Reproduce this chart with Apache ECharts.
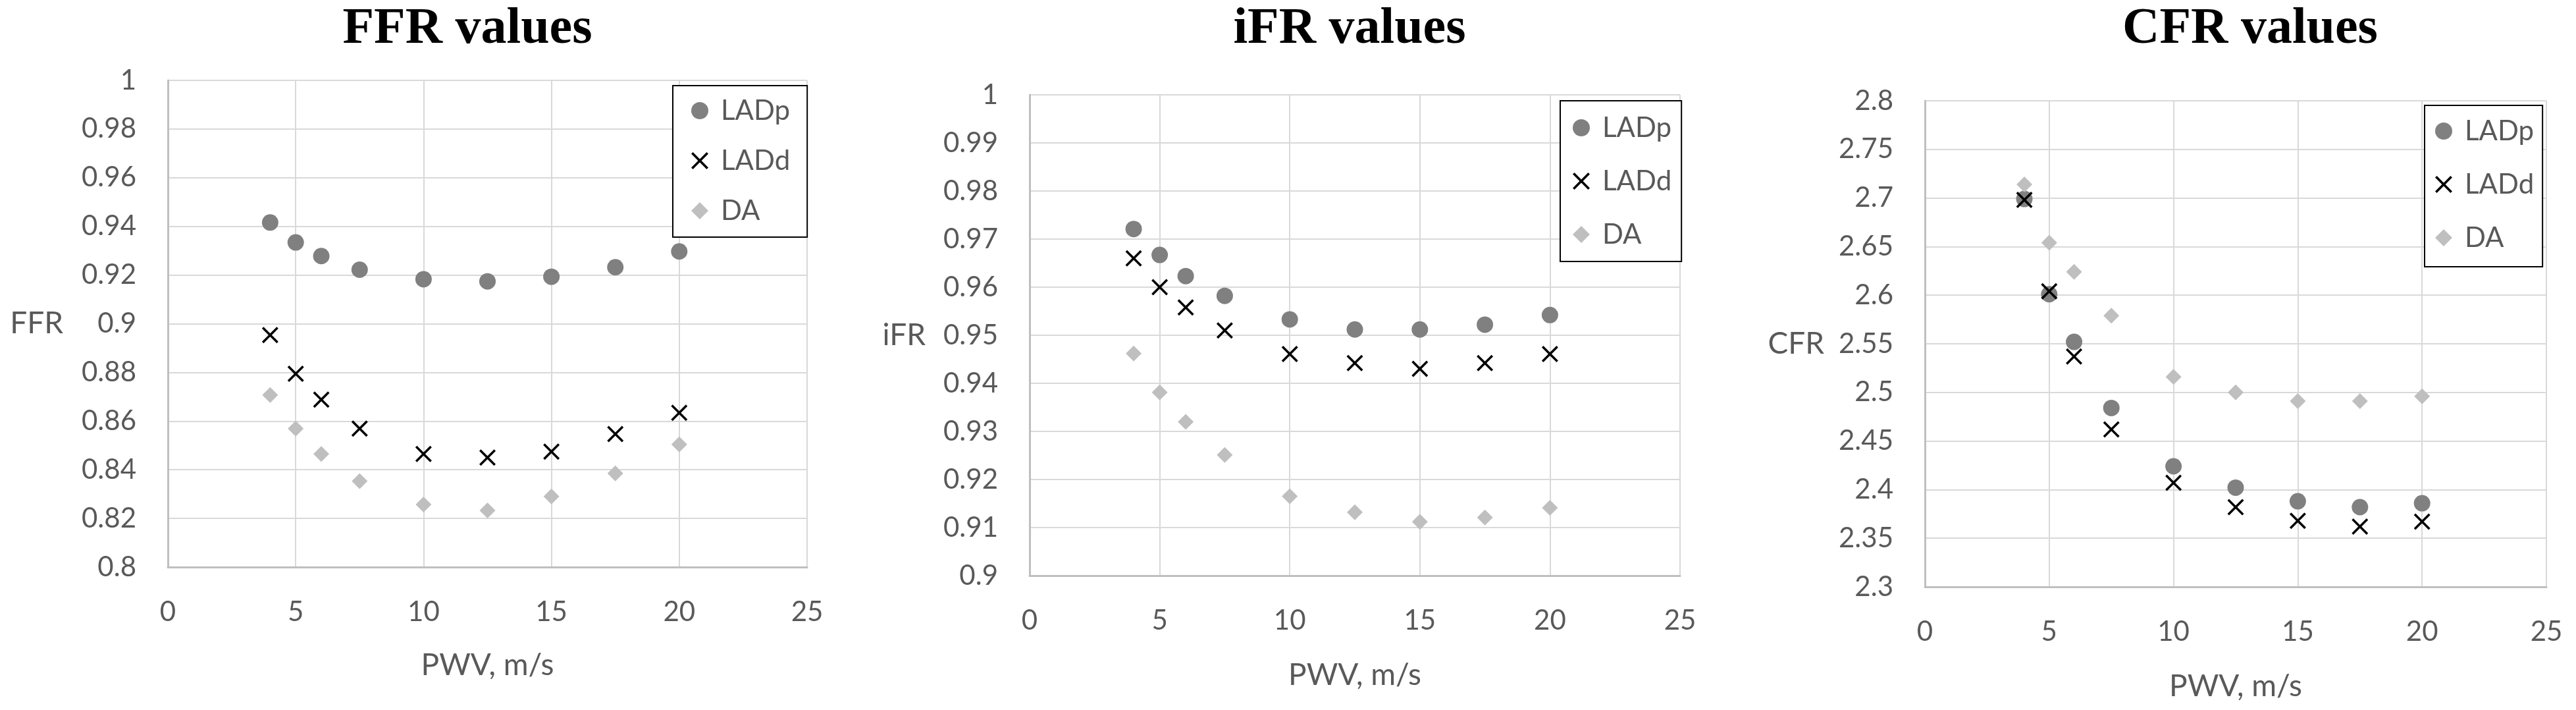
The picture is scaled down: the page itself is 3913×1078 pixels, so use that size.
<!DOCTYPE html>
<html><head><meta charset="utf-8">
<script src="https://cdn.jsdelivr.net/npm/echarts@6/dist/echarts.min.js"></script>
<style>html,body{margin:0;padding:0;background:#fff}#c{width:3913px;height:1078px}</style>
</head><body><div id="c"></div>
<script>
// ---- data ----
const pwv = [4, 5, 6, 7.5, 10, 12.5, 15, 17.5, 20];
const seriesNames = ['LADp', 'LADd', 'DA'];
const ffrLADp = [0.9416, 0.9334, 0.9278, 0.9222, 0.9183, 0.9174, 0.9193, 0.9232, 0.9297];
const ffrLADd = [0.8953, 0.8794, 0.8688, 0.8569, 0.8465, 0.8450, 0.8474, 0.8547, 0.8634];
const ffrDA   = [0.8707, 0.8569, 0.8465, 0.8353, 0.8257, 0.8233, 0.8290, 0.8385, 0.8504];
const ifrLADp = [0.9721, 0.9667, 0.9623, 0.9582, 0.9533, 0.9512, 0.9512, 0.9522, 0.9542];
const ifrLADd = [0.9660, 0.9600, 0.9558, 0.9510, 0.9461, 0.9442, 0.9430, 0.9442, 0.9461];
const ifrDA   = [0.9462, 0.9381, 0.9320, 0.9251, 0.9165, 0.9132, 0.9112, 0.9121, 0.9141];
const cfrLADp = [2.699, 2.601, 2.552, 2.484, 2.424, 2.402, 2.388, 2.382, 2.386];
const cfrLADd = [2.698, 2.604, 2.537, 2.462, 2.407, 2.382, 2.368, 2.362, 2.367];
const cfrDA   = [2.714, 2.654, 2.624, 2.579, 2.516, 2.500, 2.491, 2.491, 2.496];
const titles = ['FFR values', 'iFR values', 'CFR values'];
const yNames = ['FFR', 'iFR', 'CFR'];
const xName = 'PWV, m/s';
const yRanges = [[0.8, 1, 0.02], [0.9, 1, 0.01], [2.3, 2.8, 0.05]];
const xRange = [0, 25, 5];
const panelData = [[ffrLADp, ffrLADd, ffrDA], [ifrLADp, ifrLADd, ifrDA], [cfrLADp, cfrLADd, cfrDA]];

// ---- layout / style ----
const grids = [
  {left: 255, top: 122, width: 971, height: 739},
  {left: 1564, top: 144, width: 988, height: 730},
  {left: 2924, top: 153, width: 944, height: 738}
];
const titlePos = [{x: 705, y: 1}, {x: 2045, y: 1}, {x: 3413, y: 1}];
const yNameGap = [159, 158, 153];
const xNameGap = [126, 128, 128];
const legendPos = [
  {left: 1022, top: 130, padding: [13, 26, 15, 28], gap: 26},
  {left: 2370, top: 153, padding: [16, 15, 16, 19], gap: 31},
  {left: 3683, top: 160, padding: [14, 13, 19, 16], gap: 31}
];
const FONT = 'Lato';
const TXT = '#595959';
const xSym = 'path://M0,1 L1,0 L5,4 L9,0 L10,1 L6,5 L10,9 L9,10 L5,6 L1,10 L0,9 L4,5 Z';
const styles = [
  {symbol: 'circle', size: 25, color: '#808080'},
  {symbol: xSym, size: 25, color: '#000000'},
  {symbol: 'diamond', size: 24, color: '#bfbfbf'}
];

const option = {
  backgroundColor: '#ffffff',
  animation: false,
  title: titles.map((t, i) => ({
    text: t, left: titlePos[i].x, top: titlePos[i].y, textAlign: 'center',
    textStyle: {fontFamily: 'Liberation Serif', fontWeight: 'bold', fontSize: 78, color: '#000'}
  })),
  grid: grids.map(g => Object.assign({outerBoundsMode: 'none', containLabel: false}, g)),
  legend: legendPos.map(l => ({
    data: seriesNames, orient: 'vertical', left: l.left, top: l.top, padding: l.padding,
    itemGap: l.gap, itemWidth: 26, itemHeight: 26, symbolKeepAspect: true,
    borderColor: '#000', borderWidth: 2, backgroundColor: '#fff', selectedMode: false,
    textStyle: {fontFamily: FONT, fontSize: 42, color: TXT, lineHeight: 50, padding: [0, 0, 0, 14]}
  })),
  xAxis: grids.map((g, i) => ({
    type: 'value', gridIndex: i, min: xRange[0], max: xRange[1], interval: xRange[2],
    name: xName, nameLocation: 'middle', nameGap: xNameGap[i],
    nameTextStyle: {fontFamily: FONT, fontSize: 46, color: TXT},
    axisLine: {show: true, lineStyle: {color: '#bfbfbf', width: 3}},
    axisTick: {show: false},
    axisLabel: {fontFamily: FONT, fontSize: 42, color: TXT, margin: 47},
    splitLine: {show: true, lineStyle: {color: '#d9d9d9', width: 2}}
  })),
  yAxis: grids.map((g, i) => ({
    type: 'value', gridIndex: i, min: yRanges[i][0], max: yRanges[i][1], interval: yRanges[i][2],
    name: yNames[i], nameLocation: 'middle', nameRotate: 0, nameGap: yNameGap[i],
    nameTextStyle: {fontFamily: FONT, fontSize: 46, color: TXT},
    axisLine: {show: true, lineStyle: {color: '#bfbfbf', width: 3}},
    axisTick: {show: false},
    axisLabel: {fontFamily: FONT, fontSize: 42, color: TXT, margin: 48},
    splitLine: {show: true, lineStyle: {color: '#d9d9d9', width: 2}}
  })),
  series: []
};
panelData.forEach((arrs, p) => {
  arrs.forEach((vals, s) => {
    option.series.push({
      type: 'scatter', name: seriesNames[s], xAxisIndex: p, yAxisIndex: p,
      symbol: styles[s].symbol, symbolSize: styles[s].size, symbolKeepAspect: true,
      itemStyle: {color: styles[s].color, opacity: 1},
      data: pwv.map((x, k) => [x, vals[k]])
    });
  });
});
const chart = echarts.init(document.getElementById('c'));
chart.setOption(option);
</script></body></html>
